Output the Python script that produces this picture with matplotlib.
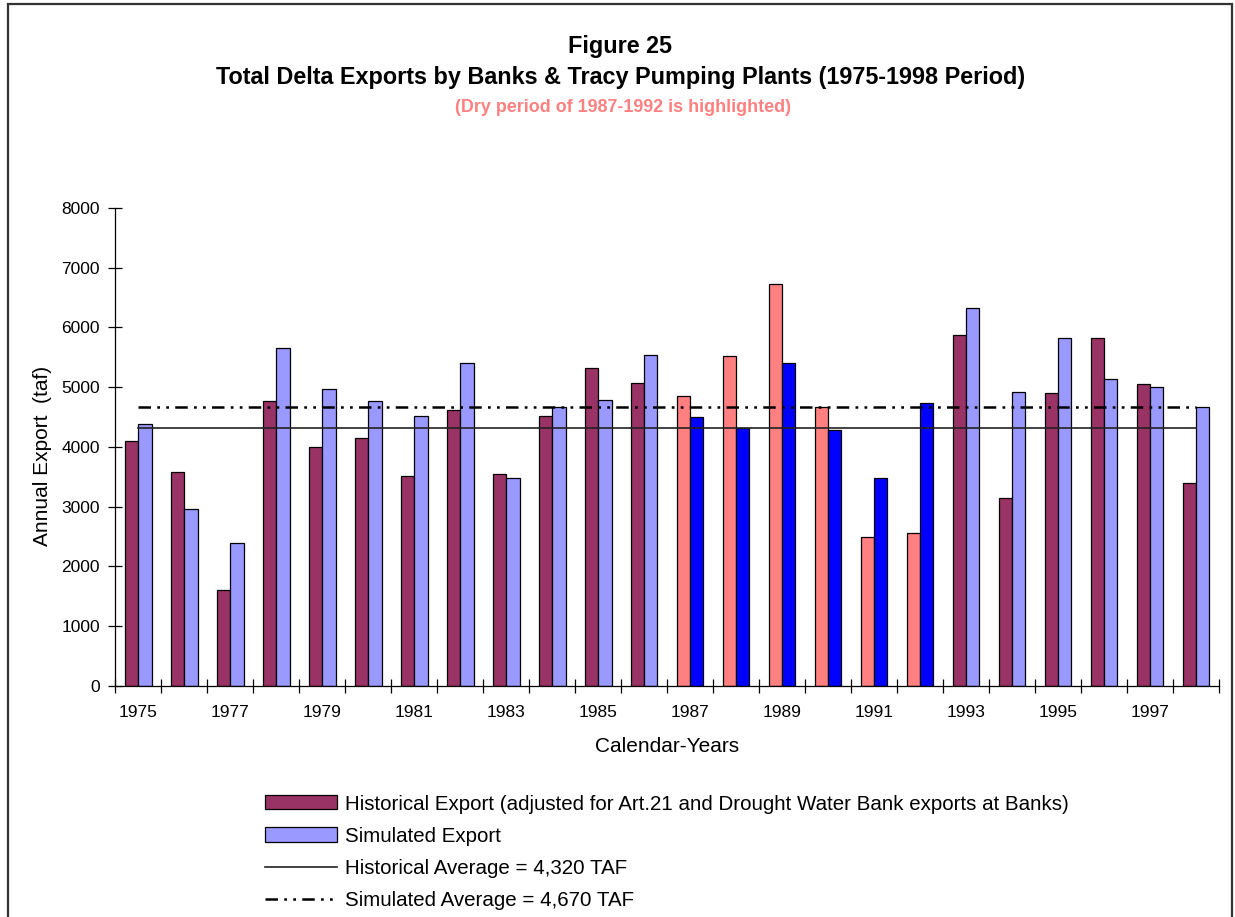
import numpy as np
import matplotlib
matplotlib.use('Agg')
import matplotlib.pyplot as plt
from matplotlib.patches import Patch, Rectangle
from matplotlib.lines import Line2D

plt.rcParams['font.family'] = ['Liberation Sans', 'DejaVu Sans']

# 数据
years = list(range(1975, 1999))
historical = [4100, 3576, 1612, 4764, 4006, 4150, 3509, 4619, 3554, 4525,
              5328, 5071, 4854, 5523, 6722, 4670, 2488, 2560, 5874, 3152,
              4910, 5830, 5049, 3392]
simulated = [4380, 2962, 2393, 5662, 4977, 4764, 4525, 5400, 3487, 4670,
             4787, 5546, 4502, 4312, 5400, 4290, 3487, 4742, 6326, 4926,
             5830, 5144, 5000, 4670]
hist_avg = 4320
sim_avg = 4670
dry_years = [1987, 1988, 1989, 1990, 1991, 1992]

hist_color = '#993366'
sim_color = '#9999FF'
dry_hist_color = '#FF8080'
dry_sim_color = '#0000FF'
dash_style = (0, (5, 2.5, 1.1, 2.5, 1.1, 2.5))

fig = plt.figure(figsize=(12.35, 9.17), dpi=100)
ax = fig.add_axes([0.0934, 0.2519, 0.8936, 0.5213])

x = np.arange(len(years))
w = 0.29
hc = [dry_hist_color if y in dry_years else hist_color for y in years]
sc = [dry_sim_color if y in dry_years else sim_color for y in years]
ax.bar(x - w / 2, historical, w, color=hc, edgecolor='black', linewidth=0.9, zorder=2)
ax.bar(x + w / 2, simulated, w, color=sc, edgecolor='black', linewidth=0.9, zorder=2)

# 平均线
ax.plot([x[0], x[-1]], [hist_avg, hist_avg], color='#222222', linewidth=1.2, zorder=3)
ax.plot([x[0], x[-1]], [sim_avg, sim_avg], color='black', linewidth=1.8,
        linestyle=dash_style, zorder=3)

ax.set_xlim(-0.5, len(years) - 0.5)
ax.set_ylim(0, 8000)
ax.set_yticks(np.arange(0, 8001, 1000))
ax.tick_params(axis='y', direction='inout', length=10, width=0.9, labelsize=12.5, pad=6)

# x轴：分隔刻度 + 每两年一个标签
ax.set_xticks(np.arange(-0.5, len(years), 1.0))
ax.set_xticklabels([])
ax.tick_params(axis='x', which='major', direction='inout', length=10, width=0.9)
ax.set_xticks(x[::2], minor=True)
ax.set_xticklabels([str(y) for y in years[::2]], minor=True)
ax.tick_params(axis='x', which='minor', length=0, labelsize=12.5, pad=14)

for s in ['top', 'right']:
    ax.spines[s].set_visible(False)
for s in ['left', 'bottom']:
    ax.spines[s].set_linewidth(0.9)

ax.set_ylabel('Annual Export  (taf)', fontsize=15)
ax.yaxis.set_label_coords(-0.0574, 0.481)
ax.set_xlabel('Calendar-Years', fontsize=15, labelpad=12)

fig.text(0.5024, 0.949, 'Figure 25', ha='center', va='center', fontsize=16.8, fontweight='bold')
fig.text(0.5024, 0.915, 'Total Delta Exports by Banks & Tracy Pumping Plants (1975-1998 Period)',
         ha='center', va='center', fontsize=16.8, fontweight='bold')
fig.text(0.5045, 0.883, '(Dry period of 1987-1992 is highlighted)', ha='center', va='center',
         fontsize=12.9, fontweight='bold', color=dry_hist_color)

handles = [
    Patch(facecolor=hist_color, edgecolor='black', linewidth=0.9),
    Patch(facecolor=sim_color, edgecolor='black', linewidth=0.9),
    Line2D([], [], color='#222222', linewidth=1.2),
    Line2D([], [], color='black', linewidth=1.8, linestyle=dash_style),
]
labels = [
    'Historical Export (adjusted for Art.21 and Drought Water Bank exports at Banks)',
    'Simulated Export',
    'Historical Average = 4,320 TAF',
    'Simulated Average = 4,670 TAF',
]
fig.legend(handles, labels, loc='upper left', bbox_to_anchor=(0.2146, 0.1335),
           bbox_transform=fig.transFigure, frameon=False, fontsize=14.8,
           handlelength=3.5, handleheight=0.68, handletextpad=0.38, labelspacing=0.64,
           borderpad=0, borderaxespad=0)

# 外框
fig.patches.append(Rectangle((8 / 1235, -0.05), (1232 - 8) / 1235, 1.05 - 4 / 917,
                             transform=fig.transFigure, fill=False, edgecolor='#333333',
                             linewidth=1.6, zorder=10))

plt.savefig('out.png', dpi=100)
